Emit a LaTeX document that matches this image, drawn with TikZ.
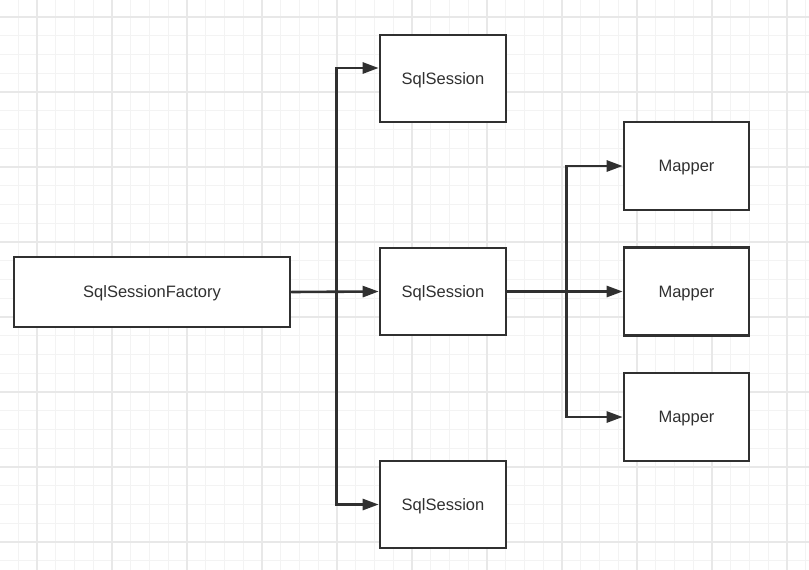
\documentclass[tikz,border=0pt]{standalone}
\usepackage{fontspec}
\setmainfont{Liberation Sans}
\usetikzlibrary{arrows.meta}
\definecolor{ink}{HTML}{303030}
\definecolor{gridminor}{HTML}{F3F3F3}
\definecolor{gridmajor}{HTML}{E8E8E8}
\tikzset{
	box/.style={draw=ink,line width=2.6pt,fill=white,text=ink,font=\fontsize{16.5}{19}\selectfont,text depth=0pt,minimum height=87pt,minimum width=126pt,inner sep=0pt},
	arr/.style={draw=ink,line width=2.6pt,-{Triangle[length=16pt,width=11pt]}}
}
\begin{document}
\begin{tikzpicture}[x=1pt,y=-1pt]
	\useasboundingbox(0,0)rectangle(809,570);
	\fill[white](0,0)rectangle(809,570);
	\foreach \k in {0,...,43}{
		\draw[gridminor,line width=1pt]({-0.5+18.75*\k},0)--++(0,570);
		\draw[gridminor,line width=1pt](0,{-1.75+18.75*\k})--++(809,0);}
	\foreach \k in {0,...,10}{
		\draw[gridmajor,line width=1.5pt]({37+75*\k},0)--++(0,570);
		\draw[gridmajor,line width=1.5pt](0,{17+75*\k})--++(809,0);}
	\node[box,minimum width=276pt,minimum height=70pt](fac)at(152,292){SqlSessionFactory};
	\node[box](s1)at(443,78.5){SqlSession};
	\node[box](s2)at(443,291.5){SqlSession};
	\node[box](s3)at(443,504.5){SqlSession};
	\node[box,minimum width=125pt,minimum height=88pt](m1)at(686.5,166){Mapper};
	\node[box,minimum width=125pt,minimum height=88pt](m2)at(686.5,291.5){Mapper};
	\node[box,minimum width=125pt,minimum height=88pt](m3)at(686.5,417){Mapper};
	\draw[arr](fac.east)--++(45,0)|-([yshift=10.5pt]s1.west);
	\draw[arr](fac.east)--(s2.west);
	\draw[arr](fac.east)--++(45,0)|-(s3.west);
	\draw[arr](s2.east)--++(59,0)|-(m1.west);
	\draw[arr](s2.east)--(m2.west);
	\draw[arr](s2.east)--++(59,0)|-(m3.west);
\end{tikzpicture}
\end{document}
